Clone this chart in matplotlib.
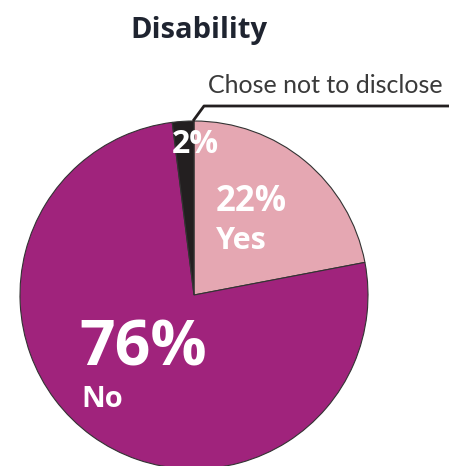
import matplotlib.pyplot as plt

# slice data, clockwise from 12 o'clock
labels = ['Yes', 'No', 'Chose not to disclose']
shares = [22, 76, 2]
colors = ['#e5a7b2', '#a0237c', '#231f20']

W, H = 449, 466
fig = plt.figure(figsize=(W / 100, H / 100), dpi=100)
ax = fig.add_axes([0, 0, 1, 1])

cx, cy, r = 194, H - 295, 174
ax.pie(shares, colors=colors, startangle=90, counterclock=False,
       center=(cx, cy), radius=r, frame=True,
       wedgeprops=dict(edgecolor='#333333', linewidth=0.8))
ax.set_xlim(0, W)
ax.set_ylim(0, H)
ax.set_aspect('equal')
ax.axis('off')

def y(px):
    return H - px

ax.text(199, y(38), 'Disability', ha='center', va='baseline',
        fontsize=21, fontweight='bold', color='#1f2430', family='Open Sans')

# callout for the small slice
ax.plot([193, 204, W], [y(121), y(106), y(106)], color='#231f20', lw=2,
        solid_capstyle='butt', clip_on=False)
ax.text(208, y(93), labels[2], ha='left', va='baseline',
        fontsize=18, color='#3a3a3a', family='Lato')

lab_font = dict(color='white', fontweight='bold', family='Open Sans', va='baseline')
ax.text(172, y(153), f'{shares[2]}%', fontsize=23, **lab_font)
ax.text(216, y(211), f'{shares[0]}%', fontsize=25, **lab_font)
ax.text(216, y(249), labels[0], fontsize=22, **lab_font)
ax.text(79, y(365), f'{shares[1]}%', fontsize=45, **lab_font)
ax.text(81, y(407), labels[1], fontsize=21, **lab_font)

fig.savefig('out.png', dpi=100)
